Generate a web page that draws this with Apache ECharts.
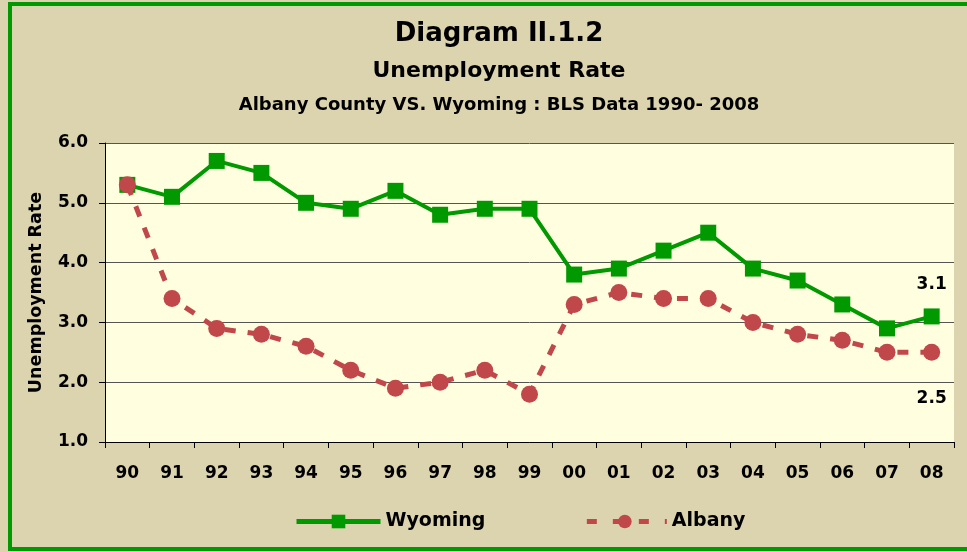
<!DOCTYPE html>
<html><head><meta charset="utf-8">
<script src="https://cdn.jsdelivr.net/npm/echarts@6/dist/echarts.min.js"></script>
<style>html,body{margin:0;padding:0;background:#DCD4AE}#c{width:967px;height:552px}</style>
</head><body><div id="c"></div>
<script>
const categories = ['90','91','92','93','94','95','96','97','98','99','00','01','02','03','04','05','06','07','08'];
const wyoming = [5.3,5.1,5.7,5.5,5.0,4.9,5.2,4.8,4.9,4.9,3.8,3.9,4.2,4.5,3.9,3.7,3.3,2.9,3.1];
const albany  = [5.3,3.4,2.9,2.8,2.6,2.2,1.9,2.0,2.2,1.8,3.3,3.5,3.4,3.4,3.0,2.8,2.7,2.5,2.5];
const yTicks = {min:1, max:6, interval:1};

const font = '"DejaVu Sans", Verdana, sans-serif';
function lastLabel(arr, pos) {
  return arr.map((v,i)=> i===arr.length-1 ? {value:v, label:{show:true, position:pos, distance:pos==='top'?15:29, formatter:(p)=>p.value.toFixed(1), fontWeight:'bold', fontSize:17, color:'#000', fontFamily:font}} : v);
}
const chart = echarts.init(document.getElementById('c'));
chart.setOption({
  backgroundColor:'#DCD4AE',
  animation:false,
  graphic:[{type:'rect', shape:{x:10,y:4,width:1000,height:545}, style:{fill:null, stroke:'#009900', lineWidth:4}, z:-1}],
  title:[
    {text:'Diagram II.1.2', left:494, top:16, textAlign:'center', textStyle:{fontFamily:font, fontWeight:'bold', fontSize:26, color:'#000'}},
    {text:'Unemployment Rate', left:494, top:55, textAlign:'center', textStyle:{fontFamily:font, fontWeight:'bold', fontSize:22, color:'#000'}},
    {text:'Albany County VS. Wyoming : BLS Data 1990- 2008', left:494, top:91, textAlign:'center', textStyle:{fontFamily:font, fontWeight:'bold', fontSize:18, color:'#000'}}
  ],
  grid:{left:105, top:143, right:13, bottom:110, show:true, backgroundColor:'#FFFFE0', borderWidth:0},
  xAxis:{type:'category', data:categories, boundaryGap:true,
    axisLine:{lineStyle:{color:'#000', width:1}},
    axisTick:{show:true, length:6, lineStyle:{color:'#000'}},
    axisLabel:{fontFamily:font, fontWeight:'bold', fontSize:17, color:'#000', margin:23}},
  yAxis:{type:'value', min:yTicks.min, max:yTicks.max, interval:yTicks.interval,
    name:'Unemployment Rate', nameLocation:'middle', nameGap:60,
    nameTextStyle:{fontFamily:font, fontWeight:'bold', fontSize:17.5, color:'#000'},
    axisLine:{show:true, lineStyle:{color:'#000'}},
    axisTick:{show:true, length:6, lineStyle:{color:'#000'}},
    axisLabel:{fontFamily:font, fontWeight:'bold', fontSize:17, color:'#000', margin:17, formatter:(v)=>v.toFixed(1)},
    splitLine:{lineStyle:{color:'#555', width:1}}},
  legend:{bottom:16, left:289, itemWidth:84, itemHeight:17, itemGap:95,
    lineStyle:{width:5},
    textStyle:{fontFamily:font, fontWeight:'bold', fontSize:19, color:'#000'},
    data:[{name:'Wyoming'}, {name:'Albany', lineStyle:{type:[10,16], dashOffset:-4}}]},
  series:[
    {name:'Wyoming', type:'line', data:lastLabel(wyoming,'top'), symbol:'rect', symbolSize:16,
      lineStyle:{color:'#009900', width:4}, itemStyle:{color:'#009900'}, z:2},
    {name:'Albany', type:'line', data:lastLabel(albany,'bottom'), symbol:'circle', symbolSize:17,
      lineStyle:{color:'#C0474A', width:5, type:[11,12]}, itemStyle:{color:'#C0474A'}, z:3}
  ]
});
</script></body></html>
